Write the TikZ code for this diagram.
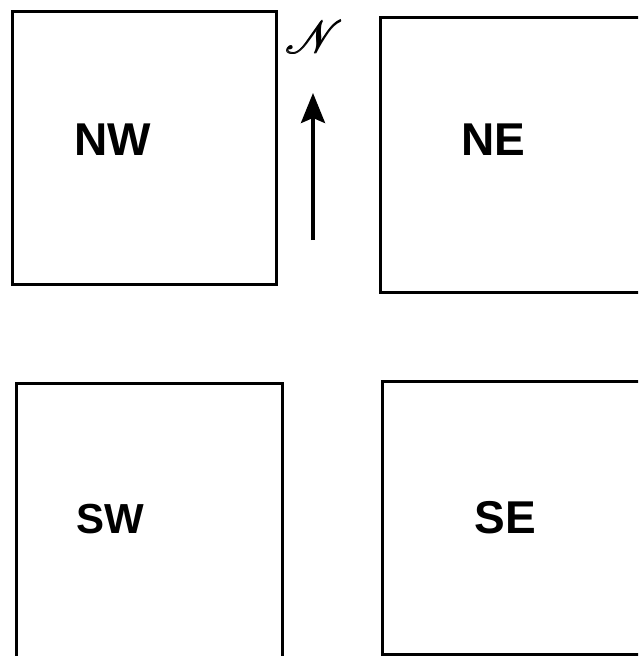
\documentclass[tikz,border=0pt]{standalone}
\usepackage{fontspec}
\usepackage{mathrsfs}
\usepackage{graphicx}
\setmainfont{Liberation Sans}
\usetikzlibrary{arrows.meta}
\newcommand{\heavyN}{\rlap{$\mathscr{N}$}\kern0.25pt\rlap{$\mathscr{N}$}\raisebox{0.2pt}{$\mathscr{N}$}}
\begin{document}
\begin{tikzpicture}[x=1pt,y=-1pt,
  quad/.style={draw=black,line width=3pt},
  lbl/.style={font=\fontsize{46}{46}\selectfont\bfseries,inner sep=0pt,anchor=center}]
\useasboundingbox (0,0) rectangle (638,656);
\clip (0,0) rectangle (638,656);
\draw[quad] (12,11) rectangle (276,284);
\draw[quad] (380,17) rectangle (700,292);
\draw[quad] (16,383) rectangle (282,720);
\draw[quad] (382,381) rectangle (700,654);
\node[lbl] (nw) at (113,140) {NW};
\node[lbl] (ne) at (493,140) {NE};
\node[lbl,font=\fontsize{42}{42}\selectfont\bfseries] (sw) at (110,519) {SW};
\node[lbl] (se) at (505,518) {SE};
\node[inner sep=0pt] (n) at (314,37) {\scalebox{4.6}{\heavyN}};
\coordinate (tail) at (313,240);
\coordinate (head) at (313,93);
\draw[line width=3.5pt,-{Stealth[length=30pt,width=24pt,inset=5pt]}] (tail) -- (head);
\end{tikzpicture}
\end{document}
